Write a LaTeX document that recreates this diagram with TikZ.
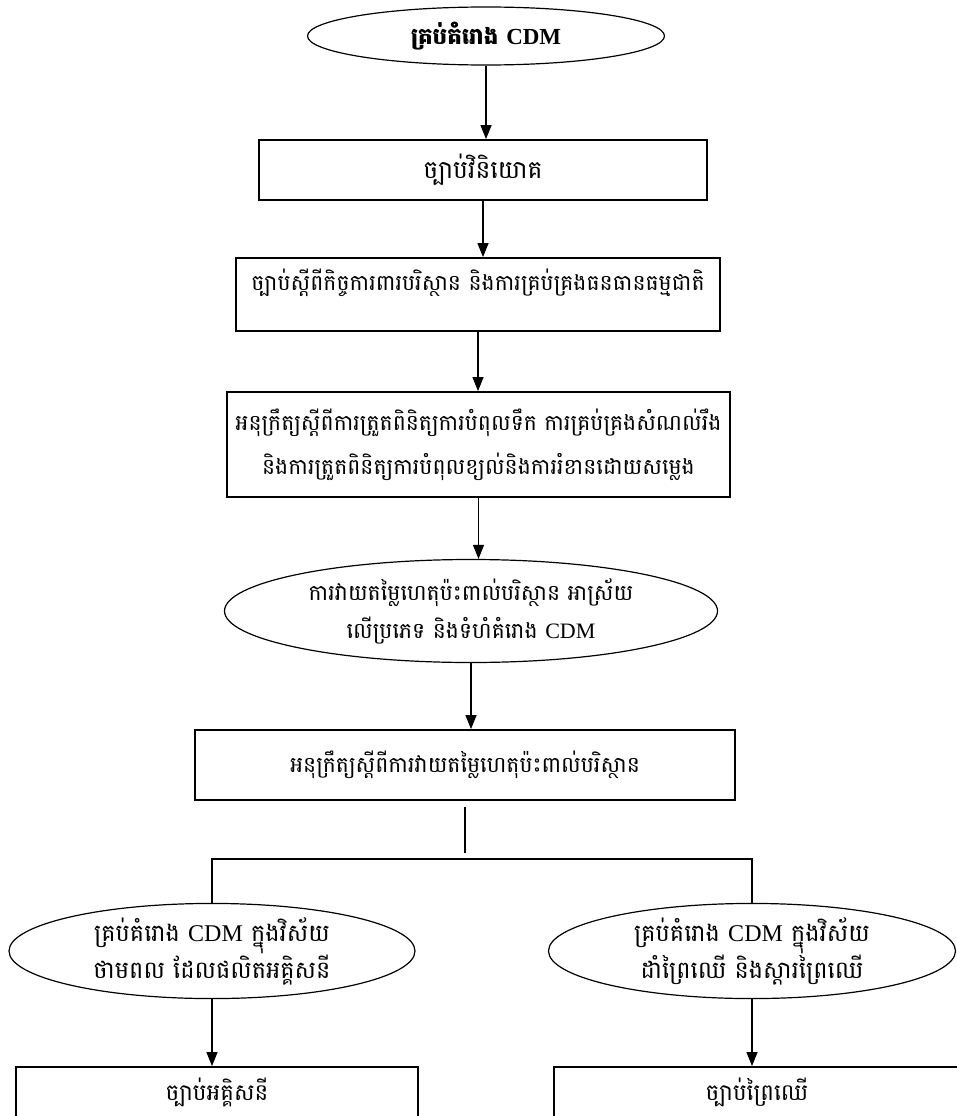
\documentclass[tikz,border=0pt]{standalone}
\usepackage{fontspec}
\setmainfont{Liberation Serif}
\newfontfamily\khmer[Script=Khmer]{Battambang}
\usepackage{tikz}
\usetikzlibrary{calc,positioning,shapes.geometric,arrows.meta}

\newcommand{\cdm}{\textrm{CDM}}

\begin{document}
\begin{tikzpicture}[x=1pt,y=-1pt,
		font=\khmer\fontsize{22}{44}\selectfont,
		box/.style={draw,line width=1.8pt,inner sep=0pt,align=center},
		oval/.style={draw,ellipse,line width=1.2pt,inner sep=0pt,align=center},
		link/.style={->,line width=1.2pt},
		>={Triangle[length=14pt,width=11pt]}]
		\useasboundingbox (0,0) rectangle (957,1116);
		\clip (0,0) rectangle (957,1116);
		\node(cdm) [oval,minimum width=357pt,minimum height=58pt,font=\khmer\bfseries\fontsize{23}{28}\selectfont] at (486,36) {គ្រប់គំរោង \cdm};
		\node(invest) [box,minimum width=448pt,minimum height=60pt,font=\khmer\fontsize{25}{30}\selectfont] at (483,170) {ច្បាប់វិនិយោគ};
		\node(envlaw) [box,minimum width=484pt,minimum height=73pt] at (478,294.5)
			{ច្បាប់ស្តីពីកិច្ចការពារបរិស្ថាន និងការគ្រប់គ្រងធនធានធម្មជាតិ\\[-14pt]\mbox{}};
		\node(water) [box,minimum width=503pt,minimum height=105pt] at (478.5,444.5)
			{អនុក្រឹត្យស្តីពីការត្រួតពិនិត្យការបំពុលទឹក ការគ្រប់គ្រងសំណល់រឹង\\និងការត្រួតពិនិត្យការបំពុលខ្យល់និងការរំខានដោយសម្លេង};
		\node(eia) [oval,minimum width=493pt,minimum height=103pt,font=\khmer\fontsize{22}{38}\selectfont] at (471,611)
			{ការវាយតម្លៃហេតុប៉ះពាល់បរិស្ថាន អាស្រ័យ\\លើប្រភេទ និងទំហំគំរោង \cdm};
		\node(subdecree) [box,minimum width=540pt,minimum height=70pt] at (465,765) {អនុក្រឹត្យស្តីពីការវាយតម្លៃហេតុប៉ះពាល់បរិស្ថាន};
		\coordinate (split) at (465,859);
		\node(energy) [oval,minimum width=406pt,minimum height=92pt,font=\khmer\fontsize{24}{35}\selectfont] at (212,951)
			{គ្រប់គំរោង \cdm\ ក្នុងវិស័យ\\ថាមពល ដែលផលិតអគ្គិសនី};
		\node(forestry) [oval,minimum width=407pt,minimum height=92pt,font=\khmer\fontsize{24}{35}\selectfont] at (752,951)
			{គ្រប់គំរោង \cdm\ ក្នុងវិស័យ\\ដាំព្រៃឈើ និងស្តារព្រៃឈើ};
		\node(elaw) [box,minimum width=402pt,minimum height=50pt,font=\khmer\fontsize{23}{28}\selectfont] at (217,1092) {ច្បាប់អគ្គិសនី};
		\node(flaw) [box,minimum width=406pt,minimum height=50pt,font=\khmer\fontsize{23}{28}\selectfont] at (757,1092) {ច្បាប់ព្រៃឈើ};
		\draw[link] (cdm.south) -- (cdm.south |- invest.north);
		\draw[link] (invest.south) -- (invest.south |- envlaw.north);
		\draw[link] (envlaw.south) -- (envlaw.south |- water.north);
		\draw[link] (water.south) -- (water.south |- eia.north);
		\draw[link] (eia.south) -- (eia.south |- subdecree.north);
		\draw[line width=1.2pt] ([yshift=-6pt]subdecree.south) -- ([yshift=6pt]split);
		\draw[line width=1.2pt] (energy.north) |- (split) -| (forestry.north);
		\draw[link] (energy.south) -- (energy.south |- elaw.north);
		\draw[link] (forestry.south) -- (forestry.south |- flaw.north);
	\end{tikzpicture}
\end{document}
